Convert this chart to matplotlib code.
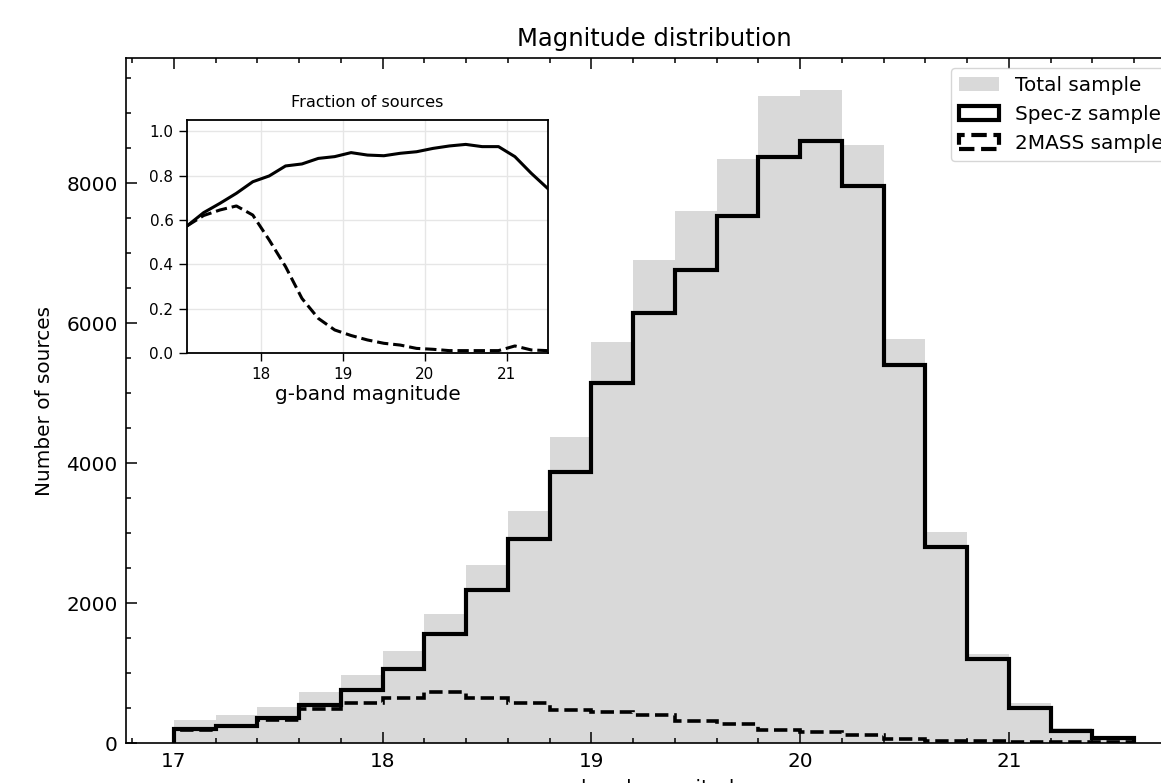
import numpy as np
import matplotlib
matplotlib.use("Agg")
import matplotlib.pyplot as plt
from matplotlib.patches import Patch
from matplotlib.ticker import MultipleLocator

# ---- data ----
bin_edges = [17.0, 17.2, 17.4, 17.6, 17.8, 18.0, 18.2, 18.4, 18.6, 18.8, 19.0, 19.2,
             19.4, 19.6, 19.8, 20.0, 20.2, 20.4, 20.6, 20.8, 21.0, 21.2, 21.4, 21.6]
bin_centers = [17.1, 17.3, 17.5, 17.7, 17.9, 18.1, 18.3, 18.5, 18.7, 18.9, 19.1, 19.3,
               19.5, 19.7, 19.9, 20.1, 20.3, 20.5, 20.7, 20.9, 21.1, 21.3, 21.5]
total_counts = [333, 400, 524, 733, 971, 1319, 1843, 2547, 3323, 4380, 5723, 6894,
                7604, 8343, 9247, 9323, 8537, 5771, 3020, 1270, 575, 222, 100]
specz_counts = [200, 248, 357, 543, 762, 1057, 1557, 2190, 2914, 3871, 5143, 6147,
                6761, 7523, 8371, 8604, 7961, 5404, 2800, 1200, 509, 180, 80]
twomass_counts = [195, 245, 330, 495, 581, 643, 733, 643, 581, 471, 445, 404,
                  319, 280, 190, 155, 114, 67, 38, 33, 19, 19, 12]

frac_specz = [0.574, 0.633, 0.675, 0.72, 0.772, 0.798, 0.843, 0.852, 0.877, 0.885,
              0.903, 0.892, 0.889, 0.90, 0.907, 0.922, 0.933, 0.94, 0.93, 0.93,
              0.885, 0.81, 0.742]
frac_2mass = [0.574, 0.62, 0.645, 0.663, 0.622, 0.51, 0.39, 0.247, 0.157, 0.105,
              0.08, 0.06, 0.045, 0.037, 0.022, 0.018, 0.012, 0.012, 0.012, 0.012,
              0.033, 0.015, 0.012]

inset_xticks = [18, 19, 20, 21]
inset_yticks = [0.0, 0.2, 0.4, 0.6, 0.8, 1.0]
main_xticks = [17, 18, 19, 20, 21]
main_yticks = [0, 2000, 4000, 6000, 8000]

GRAY = "#d9d9d9"
FS = 14.4

fig = plt.figure(figsize=(11.61, 7.83), dpi=100)
ax = fig.add_axes([0.10853, 0.0507, 0.9096, 0.8756])

ax.hist(bin_centers, bins=bin_edges, weights=total_counts, histtype="stepfilled",
        color=GRAY, zorder=1)
ax.hist(bin_centers, bins=bin_edges, weights=specz_counts, histtype="step",
        color="black", lw=3.0, zorder=2)
ax.hist(bin_centers, bins=bin_edges, weights=twomass_counts, histtype="step",
        color="black", lw=2.6, ls="--", zorder=3)

ax.set_xticks(main_xticks)
ax.set_yticks(main_yticks)
ax.xaxis.set_minor_locator(MultipleLocator(0.2))
ax.yaxis.set_minor_locator(MultipleLocator(500))
ax.tick_params(which="both", direction="in", top=True, right=True, labelsize=FS, width=1.1)
ax.tick_params(which="major", length=8.2, pad=6)
ax.tick_params(which="minor", length=3.6)
for s in ax.spines.values():
    s.set_linewidth(1.2)
ax.set_title("Magnitude distribution", fontsize=17.5, pad=8.5)
ax.set_xlabel("g-band magnitude", fontsize=FS, labelpad=6)
ax.set_ylabel("Number of sources", fontsize=FS, labelpad=9)

handles = [
    Patch(facecolor=GRAY, edgecolor="none", label="Total sample"),
    Patch(facecolor="none", edgecolor="black", lw=3.0, label="Spec-z sample"),
    Patch(facecolor="none", edgecolor="black", lw=3.0, ls="--", label="2MASS sample"),
]
ax.legend(handles=handles, loc="upper right", fontsize=FS)

# ---- inset ----
axi = fig.add_axes([0.1613, 0.5488, 0.3104, 0.298])
axi.plot(bin_centers, frac_specz, color="black", lw=2.2)
axi.plot(bin_centers, frac_2mass, color="black", lw=2.2, ls="--")
axi.set_xlim(bin_centers[0], bin_centers[-1])
axi.set_ylim(0, 1.05)
axi.set_xticks(inset_xticks)
axi.set_yticks(inset_yticks)
axi.grid(True, color="#e6e6e6", lw=1.0)
axi.set_axisbelow(True)
axi.tick_params(labelsize=10.9, length=6, width=1.0, pad=4)
for s in axi.spines.values():
    s.set_linewidth(1.3)
axi.set_title("Fraction of sources", fontsize=11.6, pad=9)
axi.set_xlabel("g-band magnitude", fontsize=FS, labelpad=2)

fig.savefig("out.png", dpi=100)
